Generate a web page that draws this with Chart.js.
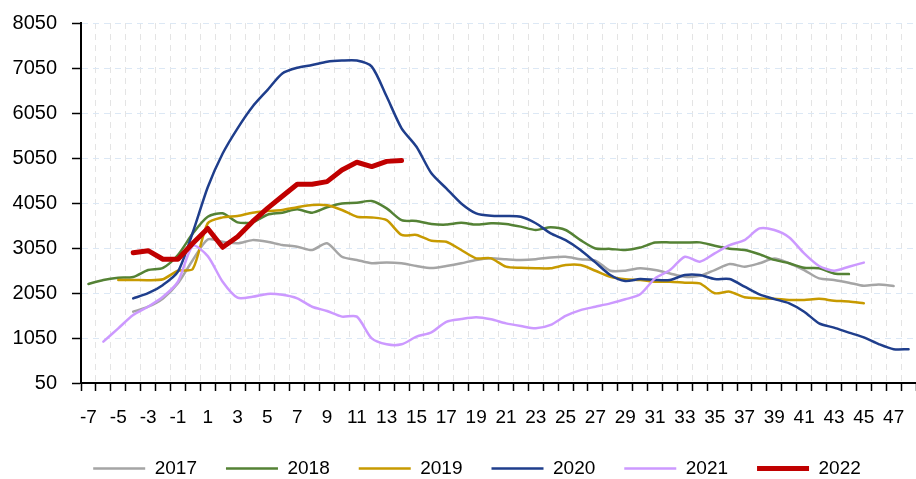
<!DOCTYPE html>
<html>
<head>
<meta charset="utf-8">
<script src="https://cdn.jsdelivr.net/npm/chart.js@4"></script>
<style>
  body { margin: 0; background: #fff; overflow: hidden; }
  #wrap { width: 916px; height: 479px; position: relative; }
</style>
</head>
<body>
<div id="wrap"><canvas id="seasonChart"></canvas></div>
<script>
// week offsets -7 .. 48
const weeks = [-7,-6,-5,-4,-3,-2,-1,0,1,2,3,4,5,6,7,8,9,10,11,12,13,14,15,16,17,18,19,20,
  21,22,23,24,25,26,27,28,29,30,31,32,33,34,35,36,37,38,39,40,41,42,43,44,45,46,47,48];
const yTicks = [50, 1050, 2050, 3050, 4050, 5050, 6050, 7050, 8050];
const years = ['2017', '2018', '2019', '2020', '2021', '2022'];

const s2017 = [null,null,null,1635,1745,1930,2265,2785,3240,3190,3155,3225,3190,3115,3080,3005,3155,2855,2785,2710,
  2730,2710,2650,2605,2650,2710,2785,2820,2800,2785,2800,2840,2855,2800,2770,2545,2545,2600,2560,2485,
  2410,2430,2560,2695,2635,2710,2815,2710,2560,2375,2340,2280,2210,2240,2205,null];
const s2018 = [2250,2340,2390,2405,2560,2610,2895,3375,3745,3820,3620,3620,3790,3835,3910,3835,3955,4040,4055,4095,
  3930,3670,3650,3585,3570,3610,3570,3600,3585,3525,3450,3510,3450,3225,3040,3030,3005,3060,3170,3175,
  3170,3175,3100,3035,3005,2910,2785,2710,2610,2600,2485,2470,null,null,null,null];
const s2019 = [null,null,2340,2340,2335,2355,2545,2585,3600,3730,3760,3835,3870,3895,3955,4005,4000,3895,3745,3730,
  3670,3340,3340,3210,3190,3005,2820,2820,2635,2610,2600,2600,2670,2670,2545,2410,2355,2340,2300,2300,
  2280,2265,2045,2080,1955,1930,1920,1895,1895,1920,1880,1860,1820,null,null,null];
const s2020 = [null,null,null,1930,2045,2230,2525,3400,4400,5150,5710,6190,6560,6930,7055,7115,7190,7215,7215,7080,
  6415,5710,5300,4710,4375,4040,3820,3765,3760,3745,3600,3375,3225,3005,2730,2450,2315,2360,2340,2340,
  2450,2450,2360,2360,2190,2020,1915,1820,1635,1375,1280,1170,1065,915,800,800];
const s2021 = [null,970,1265,1560,1745,1965,2300,3100,2870,2300,1945,1965,2030,2010,1930,1745,1650,1525,1525,1040,
  910,910,1080,1175,1410,1470,1510,1465,1375,1315,1265,1340,1540,1670,1745,1820,1910,2020,2375,2560,
  2855,2745,2930,3115,3225,3485,3450,3285,2930,2650,2545,2635,2725,null,null,null];
const s2022 = [null,null,null,2945,2990,2800,2800,3155,3485,3065,3300,3635,3930,4200,4465,4465,4525,4785,4955,4860,
  4975,4995,null,null,null,null,null,null,null,null,null,null,null,null,null,null,null,null,null,null,
  null,null,null,null,null,null,null,null,null,null,null,null,null,null,null,null];

const seriesData = [s2017, s2018, s2019, s2020, s2021, s2022];
const colors = ['#A5A5A5', '#548235', '#C79A00', '#1F3E8C', '#CC99FF', '#C00000'];
const widths = [2.5, 2.5, 2.5, 2.5, 2.5, 5];

const FONT = 'Liberation Sans, Arial, sans-serif';

const datasets = years.map((y, i) => ({
    label: y,
    data: seriesData[i],
    borderColor: colors[i],
    backgroundColor: colors[i],
    borderWidth: widths[i],
    pointRadius: 0,
    pointHoverRadius: 0,
    pointStyle: 'line',
    tension: i === 5 ? 0 : 0.25,
    borderCapStyle: 'round',
    borderJoinStyle: 'round',
    order: years.length - 1 - i
}));

// nudge the legend row a bit to the right, like the original
const legendShift = {
    id: 'legendShift',
    afterLayout(chart) {
        if (chart.legend) chart.legend.left += 21;
    }
};

const ctx = document.getElementById('seasonChart').getContext('2d');
new Chart(ctx, {
    type: 'line',
    data: {
        labels: weeks.map(String),
        datasets: datasets
    },
    plugins: [legendShift],
    options: {
        responsive: true,
        maintainAspectRatio: false,
        animation: false,
        layout: {
            padding: { left: 12, right: -5, top: 23, bottom: -9 }
        },
        plugins: {
            tooltip: { enabled: false },
            legend: {
                position: 'bottom',
                labels: {
                    usePointStyle: true,
                    pointStyle: 'line',
                    pointStyleWidth: 52,
                    padding: 29,
                    color: '#000',
                    font: { family: FONT, size: 19 },
                    sort: (a, b) => a.datasetIndex - b.datasetIndex
                }
            }
        },
        scales: {
            x: {
                offset: true,
                afterFit: function(scale) {
                    scale.height = 47;
                    scale.paddingLeft = 0;
                    scale.paddingRight = 0;
                },
                grid: {
                    offset: true,
                    color: '#E4E4E4',
                    lineWidth: 1,
                    tickColor: '#000',
                    tickLength: 8,
                    tickWidth: 1.5,
                    tickBorderDash: []
                },
                border: { display: true, color: '#000', width: 2, dash: [6, 5] },
                ticks: {
                    autoSkip: false,
                    maxRotation: 0,
                    padding: 15,
                    color: '#000',
                    font: { family: FONT, size: 19 },
                    callback: function(val, i) {
                        return i % 2 === 0 ? this.getLabelForValue(val) : '';
                    }
                }
            },
            y: {
                min: 50,
                max: 8050,
                afterBuildTicks: function(scale) {
                    scale.ticks = yTicks.map(v => ({ value: v }));
                },
                afterFit: function(scale) {
                    scale.width = 69;
                    scale.paddingTop = 0;
                    scale.paddingBottom = 0;
                },
                grid: {
                    color: '#DCE8F5',
                    lineWidth: 1,
                    tickColor: '#000',
                    tickLength: 9,
                    tickWidth: 1.5,
                    tickBorderDash: []
                },
                border: { display: true, color: '#000', width: 2, dash: [6, 5] },
                ticks: {
                    padding: 15,
                    color: '#000',
                    font: { family: FONT, size: 20 },
                    callback: v => String(v)
                }
            }
        }
    }
});
</script>
</body>
</html>
